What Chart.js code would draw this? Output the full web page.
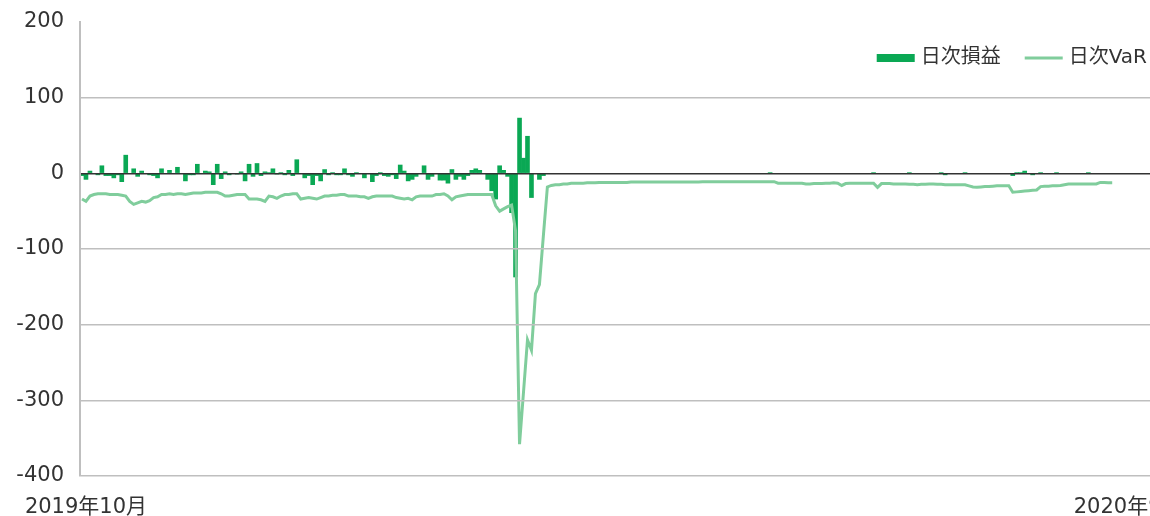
<!DOCTYPE html>
<html lang="ja">
<head>
<meta charset="utf-8">
<title>日次損益と日次VaR</title>
<script src="https://cdn.jsdelivr.net/npm/chart.js@4.4.1/dist/chart.umd.min.js"></script>
<style>
  html, body { margin: 0; padding: 0; background: #fff; overflow: hidden; }
  #varChart { display: block; width: 1150px; height: 516px; }
</style>
</head>
<body>
<canvas id="varChart" width="1150" height="516"></canvas>
<script>
// ==================== DATA ====================
// business days from Oct 2019; the axis runs a little past the last value
// (the source picture is cropped at the right edge)
const totalDays = 269;
const monthTicks = ['2019年10月', '2020年9月'];
const monthTickIndex = [1, 263];
const yTicks = { min: -400, max: 200, step: 100 };

// 日次損益 (daily P&L)
const dailyPnl = [
  -3, -8, 3, 0, -2, 10, -3, -3, -6, -2,
  -11, 24, 0, 6, -4, 3, 0, -2, -3, -6,
  6, 0, 4, 0, 8, 0, -10, -2, -2, 12,
  0, 3, 2, -15, 12, -7, 2, -2, 0, -1,
  2, -10, 12, -4, 13, -3, 2, 1, 6, -1,
  1, -2, 4, -3, 18, 0, -6, -3, -15, -3,
  -10, 5, -2, 1, -2, -2, 6, -2, -4, 1,
  0, -6, 0, -11, -3, 1, -3, -4, -2, -7,
  11, 3, -10, -8, -4, 0, 10, -8, -4, 0,
  -9, -9, -13, 5, -8, -4, -8, -3, 4, 6,
  4, 0, -8, -23, -34, 10, 4, -4, -52, -137,
  73, 20, 49, -32, 0, -8, -3, 0, 0, 0,
  0, 0, 0, 0, 0, 0, 0, 0, 0, 0,
  0, 0, 0, 0, 0, 0, 0, 0, 0, 0,
  0, 0, 0, 0, 0, 0, 0, 0, 0, 0,
  0, 0, 0, 0, 0, 0, 0, 0, 0, 0,
  0, 0, 0, 0, 0, 0, 0, 0, 0, 0,
  0, 0, 0, 1, 0, 0, 0, 0, 0, 0,
  0, 0, 0, 0, 0, 0, 0, 0, 0, 0,
  0, 0, 0, 0, 0, 0, 0, 0, 0, 1,
  0, 0, 0, 0, 0, 0, 0, 0, 1, 0,
  0, 0, 0, 0, 0, 0, 1, -2, 0, 0,
  0, 0, 1, 0, 0, 0, 0, 0, 0, 0,
  0, 0, 0, 0, -3, 1, 1, 3, 0, -2,
  0, 1, 0, 0, 0, 1, 0, 0, 0, 0,
  0, 0, 0, 1, 0, 0, 0, 0, 0, 0
];

// 日次VaR
const dailyVaR = [
  -34, -37, -30, -28, -27, -27, -27, -28, -28, -28,
  -29, -30, -37, -41, -39, -37, -38, -36, -32, -31,
  -28, -28, -27, -28, -27, -27, -28, -27, -26, -26,
  -26, -25, -25, -25, -25, -27, -30, -30, -29, -28,
  -28, -28, -34, -34, -34, -35, -37, -30, -31, -33,
  -30, -28, -28, -27, -27, -34, -33, -32, -33, -34,
  -32, -30, -30, -29, -29, -28, -28, -30, -30, -30,
  -31, -31, -33, -31, -30, -30, -30, -30, -30, -32,
  -33, -34, -33, -35, -31, -30, -30, -30, -30, -28,
  -28, -27, -30, -35, -31, -30, -29, -28, -28, -28,
  -28, -28, -28, -28, -43, -50, -47, -44, -42, -76,
  -358, -289, -220, -234, -159, -147, -82, -18, -16, -15,
  -15, -14, -14, -13, -13, -13, -13, -12.5, -12.5, -12.5,
  -12, -12, -12, -12, -12, -12, -12, -12, -11.5, -11.5,
  -11.5, -11.5, -11.5, -11.5, -11.5, -11.5, -11.5, -11.5, -11.5, -11.5,
  -11.5, -11.5, -11.5, -11.5, -11.5, -11.5, -11, -11, -11, -11,
  -11, -11, -11, -11, -11, -11, -11, -11, -11, -11,
  -11, -11, -11, -11, -11, -13, -13, -13, -13, -13,
  -13, -13, -14, -14, -13.5, -13.5, -13.5, -13, -13, -12.5,
  -13, -16, -13.5, -13, -13, -13, -13, -13, -13, -13,
  -18.5, -13.5, -13.5, -13.5, -14, -14, -14, -14, -14.5, -14.5,
  -15, -14.5, -14.5, -14, -14, -14.5, -14.5, -15, -15, -15,
  -15, -15, -15, -16.5, -18, -18.5, -18, -17.5, -17.5, -17,
  -16.5, -16.5, -16.5, -16.5, -25, -24.5, -24, -23.5, -23, -22.5,
  -22, -17.5, -17, -17, -16.5, -16.5, -16, -15, -14, -14,
  -14, -14, -14, -14, -14, -14, -12, -12, -12.5, -12.5
];

// ==================== STYLE ====================
const FONT = "'DejaVu Sans', 'Noto Sans CJK JP', sans-serif";
const TEXT = '#333333';
const BAR_GREEN = '#0aa854';
const LINE_GREEN = '#80cd9c';
const GRID_GRAY = '#bfbfbf';

const dayIndex = Array.from({ length: totalDays }, (_, i) => i);

// legend sits inside the plot, top right, so it is drawn by hand
const insideLegend = {
  id: 'insideLegend',
  afterDraw(chart) {
    const ctx = chart.ctx;
    const markW = 38, gap = 6, between = 24, cy = 58, rightEdge = 1147;
    ctx.save();
    ctx.font = '20px ' + FONT;
    ctx.textBaseline = 'middle';
    ctx.textAlign = 'left';
    const items = chart.data.datasets.map(ds => ({
      text: ds.label,
      isBar: ds.type === 'bar',
      color: ds.type === 'bar' ? ds.backgroundColor : ds.borderColor
    }));
    let total = 0;
    items.forEach((it, i) => {
      it.w = markW + gap + ctx.measureText(it.text).width;
      total += it.w + (i ? between : 0);
    });
    let x = rightEdge - total;
    items.forEach(it => {
      if (it.isBar) {
        ctx.fillStyle = it.color;
        ctx.fillRect(x, cy - 4, markW, 8);
      } else {
        ctx.strokeStyle = it.color;
        ctx.lineWidth = 3;
        ctx.beginPath();
        ctx.moveTo(x, cy);
        ctx.lineTo(x + markW, cy);
        ctx.stroke();
      }
      ctx.fillStyle = TEXT;
      ctx.fillText(it.text, x + markW + gap, cy);
      x += it.w + between;
    });
    ctx.restore();
  }
};

// ==================== CHART ====================
new Chart(document.getElementById('varChart'), {
  type: 'bar',
  data: {
    labels: dayIndex,
    datasets: [
      {
        type: 'bar',
        label: '日次損益',
        data: dailyPnl,
        backgroundColor: BAR_GREEN,
        barPercentage: 1,
        categoryPercentage: 1,
        order: 1
      },
      {
        type: 'line',
        label: '日次VaR',
        data: dailyVaR,
        borderColor: LINE_GREEN,
        borderWidth: 3,
        pointRadius: 0,
        tension: 0,
        order: 0
      }
    ]
  },
  options: {
    responsive: false,
    animation: false,
    layout: { padding: { top: 22, right: 0, bottom: 0, left: 0 } },
    plugins: {
      tooltip: { enabled: false },
      legend: { display: false }
    },
    scales: {
      x: {
        grid: { display: false, drawTicks: false },
        border: { display: false },
        ticks: {
          autoSkip: false,
          maxRotation: 0,
          minRotation: 0,
          padding: 21,
          color: TEXT,
          font: { family: FONT, size: 21, lineHeight: 1 },
          callback: (v, i) => {
            const k = monthTickIndex.indexOf(i);
            return k >= 0 ? monthTicks[k] : '';
          }
        },
        afterFit: (s) => { s.height = 40; s.paddingLeft = 0; s.paddingRight = 0; }
      },
      y: {
        min: yTicks.min,
        max: yTicks.max,
        ticks: {
          stepSize: yTicks.step,
          padding: 16,
          color: TEXT,
          font: { family: FONT, size: 21 }
        },
        grid: {
          drawTicks: false,
          z: 1,
          color: (c) => c.tick.value === 0 ? '#333333' : (c.tick.value === yTicks.max ? 'rgba(0,0,0,0)' : GRID_GRAY),
          lineWidth: 1.5
        },
        border: { display: true, color: GRID_GRAY, width: 2, z: 2 },
        afterFit: (s) => { s.width = 80; s.paddingTop = 0; s.paddingBottom = 0; }
      }
    }
  },
  plugins: [insideLegend]
});
</script>
</body>
</html>
